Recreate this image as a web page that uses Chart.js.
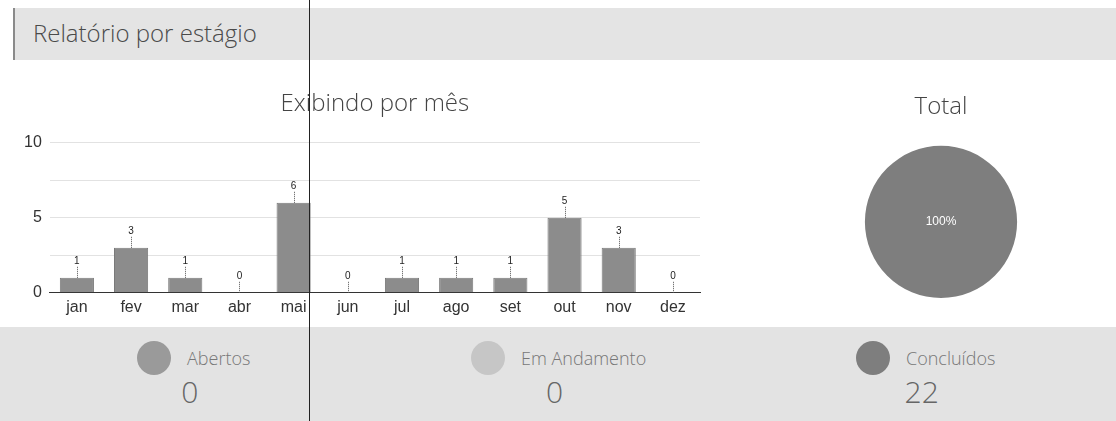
<!DOCTYPE html>
<html>
<head>
<meta charset="utf-8">
<script src="https://cdn.jsdelivr.net/npm/chart.js@4.4.0/dist/chart.umd.min.js"></script>
<style>
  body { margin: 0; width: 1116px; height: 421px; background: #fff; position: relative; overflow: hidden; font-family: "Open Sans", sans-serif; }
  .header { position: absolute; left: 13px; top: 8px; width: 1103px; height: 52px; background: #e4e4e4; border-left: 2px solid #8a8a8a; box-sizing: border-box; }
  .header span { position: absolute; left: 18px; top: 8px; font-size: 24px; color: #4a4a4a; font-weight: 300; }
  #bars { position: absolute; left: 16px; top: 80px; }
  #pie { position: absolute; left: 801px; top: 80px; }
  .footer { position: absolute; left: 0; top: 327px; width: 1116px; height: 94px; background: #e3e3e3; }
  .item { position: absolute; top: 14px; text-align: center; }
  .item .row { display: flex; align-items: center; }
  .item .dot { width: 34px; height: 34px; border-radius: 50%; margin-right: 16px; }
  .item .lbl { font-size: 18px; color: #777; font-weight: 300; }
  .item .val { font-size: 30px; color: #666; font-weight: 300; line-height: 32px; margin-top: 1px; margin-right: 8px; }
  .cursor { position: absolute; left: 309px; top: 0; width: 1px; height: 421px; background: #222; }
</style>
</head>
<body>
<div class="header"><span>Relatório por estágio</span></div>
<canvas id="bars" width="704" height="242"></canvas>
<canvas id="pie" width="280" height="230"></canvas>
<div class="footer" id="footer"></div>
<div class="cursor"></div>
<script>
// dados
const meses = ['jan', 'fev', 'mar', 'abr', 'mai', 'jun', 'jul', 'ago', 'set', 'out', 'nov', 'dez'];
const porMes = [1, 3, 1, 0, 6, 0, 1, 1, 1, 5, 3, 0];
const estagios = ['Abertos', 'Em Andamento', 'Concluídos'];
const totais = [0, 0, 22];
const coresEstagio = ['#9a9a9a', '#c6c6c6', '#7e7e7e'];
const legendaX = [137, 471, 856];

//rótulos em cima das barras
const valueLabels = {
  id: 'valueLabels',
  afterDatasetsDraw(chart) {
    const ctx = chart.ctx;
    const meta = chart.getDatasetMeta(0);
    ctx.save();
    ctx.font = '10px "Liberation Sans", Arial, sans-serif';
    ctx.fillStyle = '#222';
    ctx.textAlign = 'center';
    ctx.textBaseline = 'bottom';
    meta.data.forEach(function(bar, i) {
      const top = bar.y;
      ctx.strokeStyle = '#555';
      ctx.lineWidth = 1;
      ctx.setLineDash([1, 1]);
      ctx.beginPath();
      ctx.moveTo(Math.round(bar.x) + 0.5, top);
      ctx.lineTo(Math.round(bar.x) + 0.5, top - 12);
      ctx.stroke();
      ctx.fillText(porMes[i], bar.x, top - 12);
    });
    ctx.restore();
  }
};

new Chart(document.getElementById('bars'), {
  type: 'bar',
  data: {
    labels: meses,
    datasets: [{
      data: porMes,
      backgroundColor: '#8c8c8c',
      borderColor: '#7a7a7a',
      borderWidth: 1,
      categoryPercentage: 1,
      barPercentage: 0.63
    }]
  },
  options: {
    responsive: false,
    animation: false,
    layout: { padding: { left: 0, right: 20, top: 0, bottom: 0 } },
    plugins: {
      legend: { display: false },
      tooltip: { enabled: false },
      title: {
        display: true,
        fullSize: false,
        text: 'Exibindo por mês',
        color: '#444',
        font: { family: '"Open Sans"', size: 24, weight: 300 },
        padding: { top: 10, bottom: 24 }
      }
    },
    scales: {
      x: {
        grid: { display: false, drawTicks: false },
        border: { display: true, color: '#333', width: 1 },
        ticks: { color: '#333', padding: 5, font: { family: '"Liberation Sans"', size: 16 } }
      },
      y: {
        min: 0, max: 10,
        border: { display: false },
        grid: { color: '#e2e2e2', drawTicks: false },
        ticks: {
          stepSize: 2.5, padding: 8, color: '#333',
          font: { family: '"Liberation Sans"', size: 16 },
          callback: function(v) { return v % 5 === 0 ? v : ''; }
        }
      }
    }
  },
  plugins: [valueLabels]
});

//pizza
const centerLabel = {
  id: 'centerLabel',
  afterDatasetsDraw(chart) {
    const ctx = chart.ctx;
    const soma = totais.reduce((a, b) => a + b, 0);
    const meta = chart.getDatasetMeta(0);
    ctx.save();
    ctx.font = '12px "Liberation Sans", Arial, sans-serif';
    ctx.fillStyle = '#fff';
    ctx.textAlign = 'center';
    ctx.textBaseline = 'middle';
    meta.data.forEach(function(arc, i) {
      if (!totais[i]) return;
      const p = arc.tooltipPosition();
      const pct = Math.round(totais[i] / soma * 100) + '%';
      if (totais[i] === soma) ctx.fillText(pct, arc.x, arc.y);
      else ctx.fillText(pct, p.x, p.y);
    });
    ctx.restore();
  }
};

new Chart(document.getElementById('pie'), {
  type: 'pie',
  data: {
    labels: estagios,
    datasets: [{ data: totais, backgroundColor: coresEstagio, borderWidth: 0 }]
  },
  options: {
    responsive: false,
    animation: false,
    layout: { padding: { bottom: 12 } },
    plugins: {
      legend: { display: false },
      tooltip: { enabled: false },
      title: {
        display: true,
        text: 'Total',
        color: '#444',
        font: { family: '"Open Sans"', size: 24, weight: 300 },
        padding: { top: 13, bottom: 24 }
      }
    }
  },
  plugins: [centerLabel]
});

//legenda de baixo
const footer = document.getElementById('footer');
estagios.forEach(function(nome, i) {
  const item = document.createElement('div');
  item.className = 'item';
  item.style.left = legendaX[i] + 'px';
  item.innerHTML = '<div class="row"><div class="dot" style="background:' + coresEstagio[i] + '"></div>' +
    '<div class="lbl">' + nome + '</div></div><div class="val">' + totais[i] + '</div>';
  footer.appendChild(item);
});
</script>
</body>
</html>
